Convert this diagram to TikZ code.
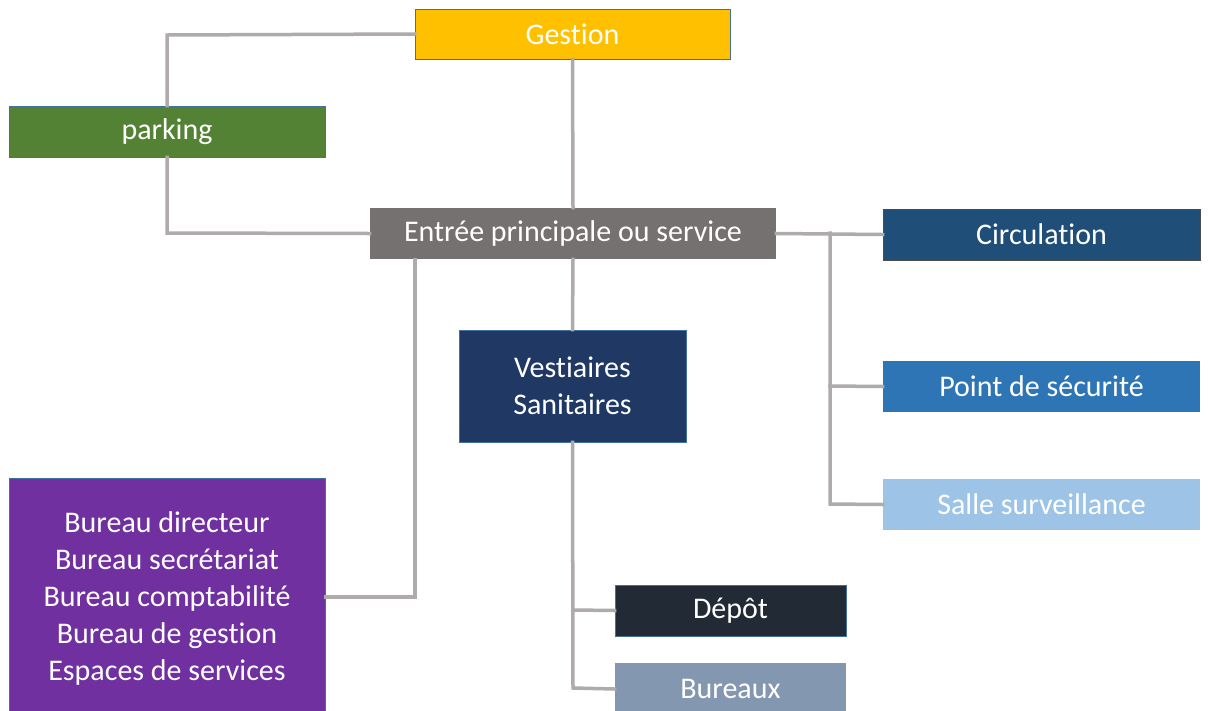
\documentclass[tikz,border=0pt]{standalone}
\usepackage{fontspec}
\setmainfont{Carlito}[Ligatures=NoCommon]
\definecolor{cGest}{HTML}{FFC000}
\definecolor{cPark}{HTML}{548235}
\definecolor{cEntr}{HTML}{767171}
\definecolor{cCirc}{HTML}{1F4E79}
\definecolor{cPoint}{HTML}{2E75B6}
\definecolor{cSalle}{HTML}{9DC3E6}
\definecolor{cVest}{HTML}{203864}
\definecolor{cPurp}{HTML}{7030A0}
\definecolor{cDep}{HTML}{222A35}
\definecolor{cBur}{HTML}{8497B0}
\definecolor{cEdge}{HTML}{41719C}
\definecolor{cLink}{HTML}{AFABAB}
\tikzset{
  box/.style={rectangle, draw=cEdge, line width=0.8pt, text=white, align=center,
    inner sep=0pt, font=\fontsize{30}{37}\selectfont},
  link/.style={draw=cLink, line width=3.5pt, line cap=rect}
}
\begin{document}
\begin{tikzpicture}[x=1pt,y=-1pt]
\clip (0,0) rectangle (1208,710);
\fill[white] (0,0) rectangle (1208,710);
\coordinate (g1) at (167,35);
\coordinate (p1) at (167,233);
\coordinate (r1) at (830,233);
\coordinate (r2) at (830,386);
\coordinate (r3) at (830,504);
\coordinate (l1) at (415,597);
\coordinate (v1) at (573,610);
\coordinate (v2) at (573,688);
\node[box, fill=cGest, minimum width=315, minimum height=50] (gest) at (572.5,34) {Gestion};
\node[box, fill=cPark, minimum width=316, minimum height=51] (park) at (167,131.5) {parking};
\node[box, fill=cEntr, draw=none, minimum width=406, minimum height=51] (entr) at (573,233.5) {Entrée principale ou service};
\node[box, fill=cCirc, draw=black!70, minimum width=317, minimum height=51] (circ) at (1041.5,234.5) {Circulation};
\node[box, fill=cPoint, draw=none, minimum width=317, minimum height=51] (point) at (1041.5,386.5) {Point de sécurité};
\node[box, fill=cSalle, draw=none, minimum width=317, minimum height=51] (salle) at (1041.5,504.5) {Salle surveillance};
\node[box, fill=cVest, minimum width=227, minimum height=112] (vest) at (572.5,386) {Vestiaires\\Sanitaires};
\node[box, fill=cPurp, minimum width=316, minimum height=240] (purp) at (167,598) {Bureau directeur\\Bureau secrétariat\\Bureau comptabilité\\Bureau de gestion\\Espaces de services};
\node[box, fill=cDep, minimum width=231, minimum height=51] (dep) at (730.5,610.5) {Dépôt};
\node[box, fill=cBur, draw=none, minimum width=231, minimum height=52] (bur) at (730.5,689) {Bureaux};
\draw[link] (gest.west) -- (g1) -- (park.north);
\draw[link] (park.south) -- (p1) -- (entr.west);
\draw[link] (gest.south) -- (entr.north);
\draw[link] (entr.east) -- (circ.west);
\draw[link] (r1) -- (r3) -- (salle.west);
\draw[link] (r2) -- (point.west);
\draw[link] (entr.south -| l1) -- (l1) -- (purp.east |- l1);
\draw[link] (entr.south) -- (vest.north);
\draw[link] (vest.south) -- (v2) -- (bur.west);
\draw[link] (v1) -- (dep.west);
\end{tikzpicture}
\end{document}
